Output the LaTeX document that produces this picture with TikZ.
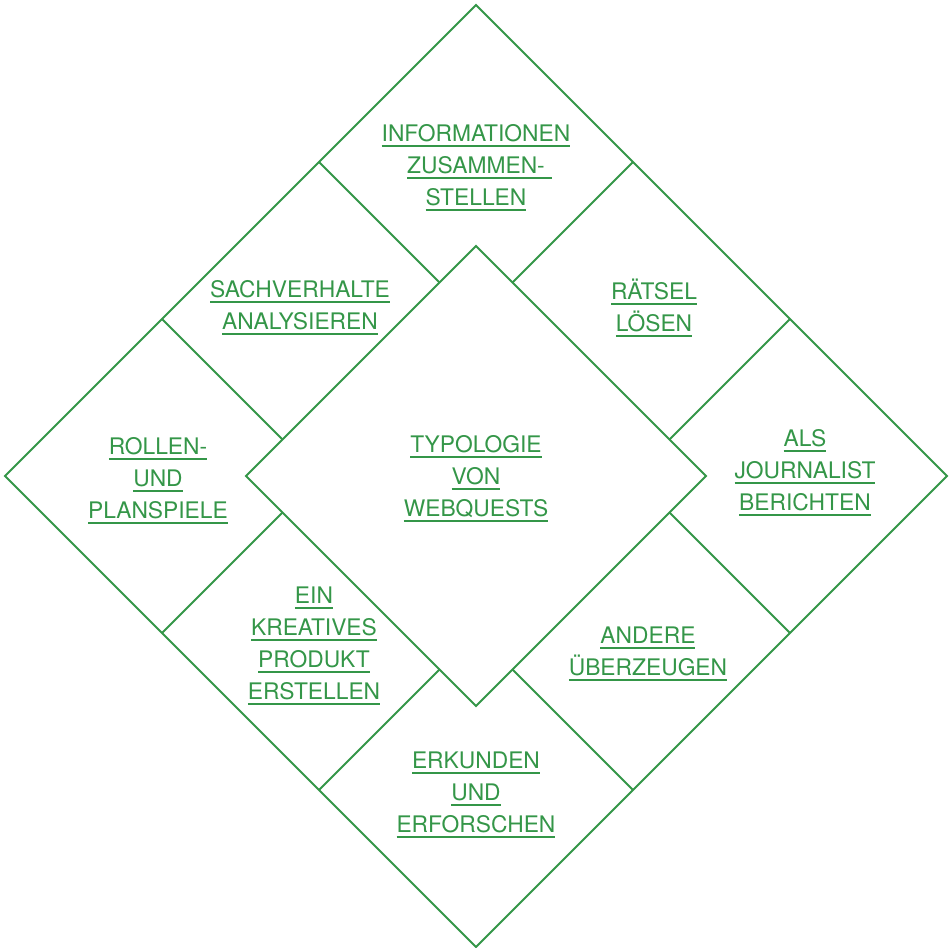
\documentclass[tikz,border=0pt]{standalone}
\usepackage{fontspec}
\setmainfont{TeX Gyre Heros}
\usepackage{tikz}
\usepackage{xcolor}
\definecolor{wgreen}{RGB}{52,150,72}

\newcommand{\unl}[1]{\setbox0\hbox{#1}\rlap{\rule[-2.85pt]{\wd0}{1pt}}\box0}

\tikzset{lbl/.style={text=wgreen, font=\fontsize{11.4}{16}\selectfont, align=center}}

\begin{document}
\begin{tikzpicture}[x=0.5pt,y=0.5pt]

\useasboundingbox (-476,-472) rectangle (474,476);

\begin{scope}[rotate=45, draw=wgreen, line width=1pt]

\draw (-333,-333) rectangle (333,333);
\draw (-162.6,-162.6) rectangle (162.6,162.6);

\draw (-111,162.6) -- (-111,333);
\draw (111,162.6) -- (111,333);
\draw (-111,-162.6) -- (-111,-333);
\draw (111,-162.6) -- (111,-333);

\draw (162.6,-111) -- (333,-111);
\draw (162.6,111) -- (333,111);
\draw (-162.6,-111) -- (-333,-111);
\draw (-162.6,111) -- (-333,111);
\end{scope}

\node[lbl] (info) at (0,308) {\unl{INFORMATIONEN}\\\unl{ZUSAMMEN-}\rlap{\rule[-2.85pt]{3.5pt}{1pt}}\\\unl{STELLEN}};
\node[lbl] (sach) at (-176,168) {\unl{SACHVERHALTE}\\\unl{ANALYSIEREN}};
\node[lbl] (raetsel) at (178,168) {\unl{RÄTSEL}\\\unl{LÖSEN}};
\node[lbl] (rollen) at (-318,-5) {\unl{ROLLEN-}\\\unl{UND}\\\unl{PLANSPIELE}};
\node[lbl] (typo) at (0,-3) {\unl{TYPOLOGIE}\\\unl{VON}\\\unl{WEBQUESTS}};
\node[lbl] (journ) at (329,3) {\unl{ALS}\\\unl{JOURNALIST}\\\unl{BERICHTEN}};
\node[lbl] (kreativ) at (-162,-170) {\unl{EIN}\\\unl{KREATIVES}\\\unl{PRODUKT}\\\unl{ERSTELLEN}};
\node[lbl] (andere) at (172,-178) {\unl{ANDERE}\\\unl{ÜBERZEUGEN}};
\node[lbl] (erkunden) at (0,-319) {\unl{ERKUNDEN}\\\unl{UND}\\\unl{ERFORSCHEN}};

\end{tikzpicture}
\end{document}
